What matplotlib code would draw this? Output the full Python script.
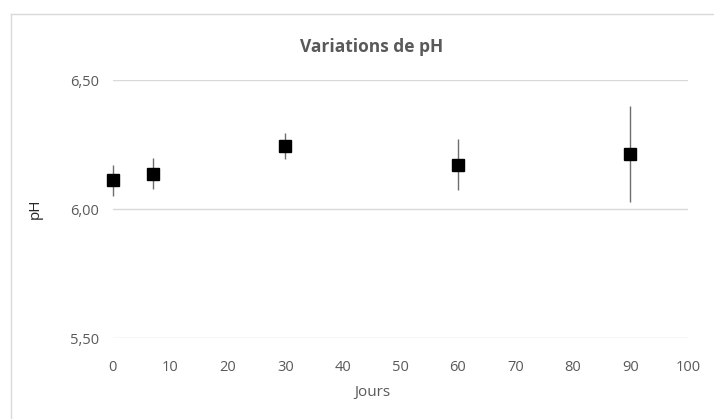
import matplotlib
matplotlib.use("Agg")
import matplotlib.pyplot as plt
from matplotlib.lines import Line2D
from matplotlib.ticker import FuncFormatter

jours = [0, 7, 30, 60, 90]
ph = [6.112, 6.136, 6.245, 6.172, 6.213]
ph_err = [0.06, 0.06, 0.05, 0.10, 0.185]

plt.rcParams['font.family'] = ['Open Sans', 'DejaVu Sans']
grey = '#595959'

fig = plt.figure(figsize=(7.14, 4.19), dpi=100)
ax = fig.add_axes([0.158, 0.193, 0.9636 - 0.158, 0.809 - 0.193])

cont = ax.errorbar(jours, ph, yerr=ph_err, fmt='s', color='black', markersize=8.5,
                   ecolor='#6e6e6e', elinewidth=1.0, capsize=0, zorder=3)
cont.lines[0].set_clip_on(False)
for coll in cont.lines[2]:
    coll.set_clip_on(False)

ax.set_xlim(0, 100)
ax.set_ylim(5.5, 6.5)
ax.set_xticks(range(0, 101, 10))
ax.set_yticks([5.5, 6.0, 6.5])
ax.yaxis.set_major_formatter(FuncFormatter(lambda v, p: f"{v:.2f}".replace('.', ',')))
ax.grid(axis='y', color='#d9d9d9', linewidth=1)
ax.set_axisbelow(True)
for s in ax.spines.values():
    s.set_visible(False)
ax.tick_params(length=0, colors=grey, labelsize=10.5)
ax.tick_params(axis='x', pad=16)
ax.tick_params(axis='y', pad=10)

fig.text(0.521, 0.888, 'Variations de pH', color=grey, fontsize=12.5, fontweight='bold',
         ha='center', va='center')
fig.text(0.522, 1 - 392 / 419, 'Jours', color=grey, fontsize=11, ha='center', va='center')
fig.text(35 / 714, 1 - 209 / 419, 'pH', color='#262626', fontsize=11, ha='center', va='center',
         rotation=90)

bx, by = 10.5 / 714, 1 - 14.5 / 419
fig.lines.append(Line2D([bx, bx], [0, by], transform=fig.transFigure, color='#d9d9d9', lw=1))
fig.lines.append(Line2D([bx, 1], [by, by], transform=fig.transFigure, color='#d9d9d9', lw=1))
fig.savefig('out.png', dpi=100)
